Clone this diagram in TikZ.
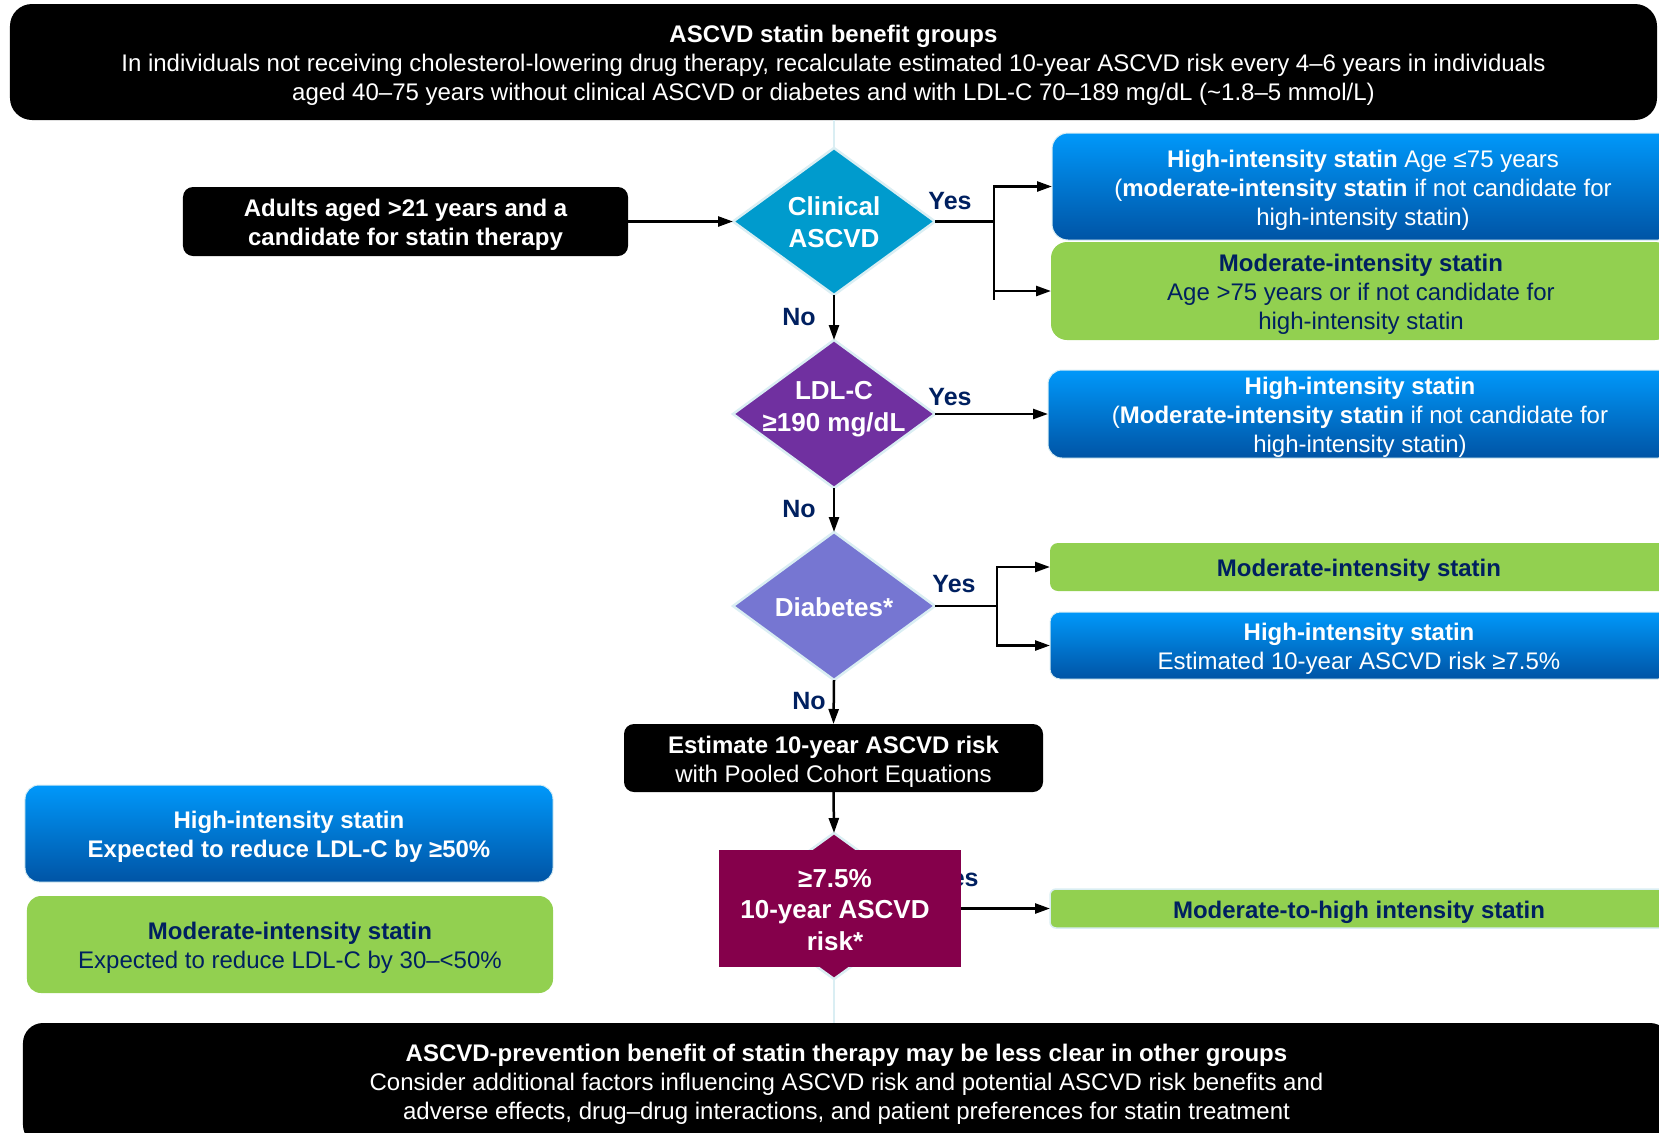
\documentclass[tikz,border=0pt]{standalone}
\usepackage{fontspec}
\setmainfont{Liberation Sans}
\usetikzlibrary{shapes.geometric,arrows.meta}
\definecolor{navy}{RGB}{0,32,96}
\definecolor{dA}{RGB}{0,155,205}
\definecolor{dB}{RGB}{112,48,160}
\definecolor{dC}{RGB}{118,118,210}
\definecolor{dD}{RGB}{133,0,75}
\definecolor{edge}{RGB}{218,238,243}
\definecolor{bluetop}{RGB}{0,152,250}
\definecolor{bluebot}{RGB}{0,84,165}
\definecolor{grn}{RGB}{146,208,80}
\newcommand\fsz[2]{\fontsize{#1bp}{#2bp}\selectfont}
\newcommand\lift{\rule{0pt}{24.5bp}}
\begin{document}
\begin{tikzpicture}[x=1bp,y=-1bp,
  box/.style={inner sep=0pt, outer sep=0pt, align=center, font=\fsz{24}{29}},
  blk/.style={box, fill=black, text=white},
  bluebox/.style={box, top color=bluetop, bottom color=bluebot, draw=edge, line width=1bp, text=white},
  greenbox/.style={box, fill=grn, text=navy},
  dia/.style={diamond, inner sep=0pt, outer sep=0pt, draw=edge, line width=2.5bp, minimum width=202bp, minimum height=147bp},
  diatext/.style={inner sep=0pt, text=white, align=center, font=\bfseries\fsz{26}{32.5}},
  lbl/.style={inner sep=0pt, text=navy, font=\bfseries\fsz{25}{30}},
  arr/.style={line width=2.5bp, -{Triangle[length=15bp,width=10bp]}},
  ln/.style={line width=2.5bp},
  pale/.style={line width=2.5bp, draw=edge}
]
\useasboundingbox (0,0) rectangle (1659,1132);
\clip (0,0) rectangle (1659,1132);

% header and footer
\node[blk, rounded corners=22bp, minimum width=1647bp, minimum height=116bp] (top) at (833.5,62)
  {\lift{\bfseries ASCVD statin benefit groups}\\In individuals not receiving cholesterol-lowering drug therapy, recalculate estimated 10-year ASCVD risk every 4–6 years in individuals\\aged 40–75 years without clinical ASCVD or diabetes and with LDL-C 70–189 mg/dL (\textasciitilde1.8–5 mmol/L)};
\node[blk, rounded corners=20bp, minimum width=1647bp, minimum height=122bp] (bot) at (846.5,1084)
  {{\bfseries ASCVD-prevention benefit of statin therapy may be less clear in other groups}\\Consider additional factors influencing ASCVD risk and potential ASCVD risk benefits and\\adverse effects, drug–drug interactions, and patient preferences for statin treatment};

% start
\node[blk, rounded corners=10bp, minimum width=445bp, minimum height=69bp, font=\bfseries\fsz{24}{29}] (adults) at (405.5,221.5)
  {\lift Adults aged >21 years and a\\candidate for statin therapy};

% decisions
\node[dia, fill=dA] (d1) at (834,221.5) {};
\node[diatext] (t1) at (834,222) {Clinical\\ASCVD};
\node[dia, fill=dB, minimum height=148bp] (d2) at (834,414) {};
\node[diatext] (t2) at (834,409) {LDL-C\\≥190 mg/dL};
\node[dia, fill=dC, minimum height=148bp] (d3) at (834,606) {};
\node[diatext] (t3) at (834,607) {Diabetes*};

% outcomes right
\node[bluebox, rounded corners=16bp, minimum width=622bp, minimum height=107bp] (b1) at (1363,186.5)
  {\lift{\bfseries High-intensity statin} Age ≤75 years\\({\bfseries moderate-intensity statin} if not candidate for\\high-intensity statin)};
\node[greenbox, rounded corners=16bp, minimum width=620bp, minimum height=98bp] (g2) at (1361,291)
  {\lift{\bfseries Moderate-intensity statin}\\Age >75 years or if not candidate for\\high-intensity statin};
\node[bluebox, rounded corners=14bp, minimum width=624bp, minimum height=88bp] (b3) at (1360,414)
  {\lift{\bfseries High-intensity statin}\\({\bfseries Moderate-intensity statin} if not candidate for\\high-intensity statin)};
\node[greenbox, rounded corners=8bp, minimum width=618bp, minimum height=48bp, font=\bfseries\fsz{24}{29}] (g4) at (1359,567)
  {\lift Moderate-intensity statin};
\node[bluebox, rounded corners=10bp, minimum width=618bp, minimum height=67bp] (b5) at (1359,645.5)
  {\lift{\bfseries High-intensity statin}\\Estimated 10-year ASCVD risk ≥7.5\%};
\node[greenbox, draw=edge, line width=1.5bp, rounded corners=6bp, minimum width=618bp, minimum height=39bp, font=\bfseries\fsz{24}{29}] (g6) at (1359,908.5)
  {\lift Moderate-to-high intensity statin};

% estimate
\node[blk, rounded corners=10bp, minimum width=419bp, minimum height=68bp] (est) at (833.5,758)
  {\lift{\bfseries Estimate 10-year ASCVD risk}\\with Pooled Cohort Equations};

% legend
\node[bluebox, rounded corners=14bp, minimum width=528bp, minimum height=97bp, font=\bfseries\fsz{24}{29}] (bL) at (289,833.5)
  {\lift High-intensity statin\\Expected to reduce LDL-C by ≥50\%};
\node[greenbox, rounded corners=14bp, minimum width=526bp, minimum height=97bp] (gL) at (290,944.5)
  {\lift{\bfseries Moderate-intensity statin}\\Expected to reduce LDL-C by 30–<50\%};

% labels
\node[lbl] (y1) at (950,201) {Yes};
\node[lbl] (y2) at (950,397) {Yes};
\node[lbl] (y3) at (954,584) {Yes};
\node[lbl] (y4) at (957,878) {Yes};
\node[lbl] (n1) at (799,317) {No};
\node[lbl] (n2) at (799,509) {No};
\node[lbl] (n3) at (809,701) {No};

% risk decision
\node[dia, fill=dD, minimum height=146bp] (d4) at (834,906) {};
\node[inner sep=0pt, outer sep=0pt, fill=dD, minimum width=242bp, minimum height=117bp] (r4) at (840,908.5) {};
\node[diatext, font=\bfseries\fsz{26}{31.5}] (t4) at (835,910) {≥7.5\%\\10-year ASCVD\\risk*};

% connectors
\draw[pale] (d1.north |- top.south) -- (d1.north);
\draw[pale] (d4.south) -- (d4.south |- bot.north);
\draw[arr] (adults.east) -- (d1.west);

\coordinate (f1) at (994,221.5);
\coordinate (f1b) at (994,300);
\draw[ln] (d1.east) -- (f1);
\draw[arr] (f1) |- (b1.west);
\draw[arr] (f1) |- (g2.west);
\draw[ln] (g2.west -| f1) -- (f1b);

\draw[arr] (d1.south) -- (d2.north);
\draw[arr] (d2.east) -- (b3.west);
\draw[arr] (d2.south) -- (d3.north);

\coordinate (f3) at (997,606);
\draw[ln] (d3.east) -- (f3);
\draw[arr] (f3) |- (g4.west);
\draw[arr] (f3) |- (b5.west);

\draw[arr] (d3.south) -- (est.north);
\draw[arr] (est.south) -- (d4.north);
\draw[arr] (r4.east) -- (g6.west);
\end{tikzpicture}
\end{document}
